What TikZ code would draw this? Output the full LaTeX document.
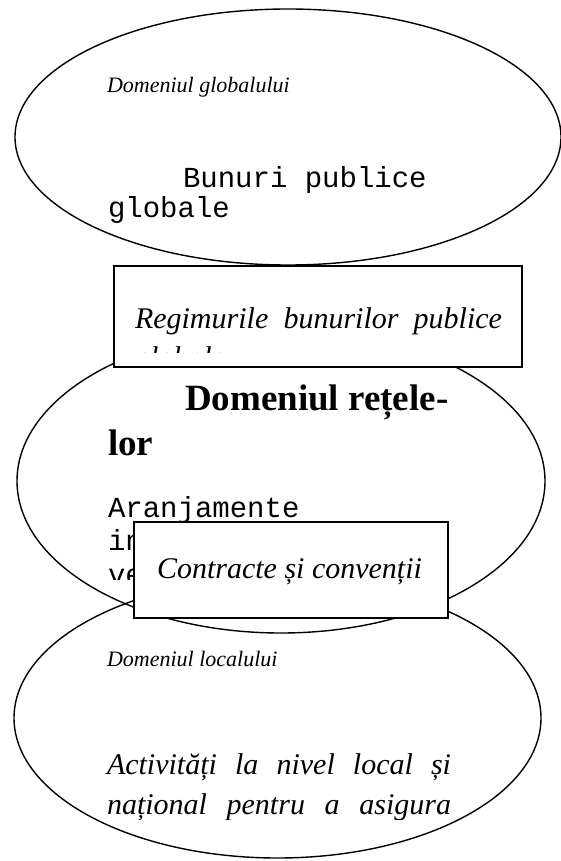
\documentclass[tikz,border=0pt]{standalone}
\usepackage{fontspec}
\setmainfont{Liberation Serif}
\setmonofont{Liberation Mono}
\usetikzlibrary{shapes.geometric}

\tikzset{
  domeniu/.style={draw, ellipse, line width=1.4pt, inner sep=0pt},
  cadru/.style={draw, fill=white, line width=1.6pt, anchor=north west, inner sep=0pt},
  eticheta/.style={anchor=base west, inner sep=0pt, outer sep=0pt},
  titlumic/.style={eticheta, font=\fontsize{22}{26}\selectfont\itshape},
  titlumare/.style={eticheta, font=\fontsize{30}{36}\selectfont\itshape},
  titlugros/.style={eticheta, font=\fontsize{37}{42}\selectfont\bfseries},
  mono/.style={eticheta, font=\fontsize{29}{33}\selectfont\ttfamily}
}

\begin{document}
\begin{tikzpicture}[x=1pt, y=-1pt]
  \useasboundingbox (0,0) rectangle (561,861);

  \node[domeniu, minimum width=546pt, minimum height=256pt] (glob) at (288,137) {};
  \node[domeniu, minimum width=528pt, minimum height=304pt] (retea) at (281,481) {};
  \node[domeniu, minimum width=527pt, minimum height=280pt] (local) at (277.5,718) {};

  \node[titlumic] (globtitlu) at (107,93) {Domeniul globalului};
  \node[mono] (bunuri) at (183,187) {Bunuri publice};
  \node[mono] (globale) at (108,217) {globale};

  \node[titlugros] (retele) at (185,410) {Domeniul rețele-};
  \node[titlugros] (retelelor) at (108,455) {lor};
  \node[mono] (aranj) at (108,517) {Aranjamente};
  \node[mono] (aranjin) at (108,550) {in};
  \begin{scope}
    \clip (100,560) rectangle (300,579);
    \node[mono] (aranjve) at (108,584) {ve};
  \end{scope}

  \node[titlumic] (localtitlu) at (107,666) {Domeniul localului};
  \node[titlumare] (activ) at (107,774) {\makebox[344pt][s]{Activități la nivel local și}};
  \begin{scope}
    \clip (100,790) rectangle (460,819);
    \node[titlumare] (national) at (107,814) {\makebox[344pt][s]{național pentru a asigura}};
  \end{scope}

  \node[cadru, minimum width=408pt, minimum height=101pt] (regim) at (113,265) {};
  \node[titlumare] (regimtext) at (135,328) {\makebox[367pt][s]{Regimurile bunurilor publice}};
  \begin{scope}
    \clip (120,340) rectangle (515,352);
    \node[titlumare] (regimglob) at (135,367) {globale};
  \end{scope}

  \node[cadru, minimum width=314pt, minimum height=96pt] (contr) at (133,521) {};
  \node[titlumare] (contrtext) at (157,578) {Contracte și convenții};
\end{tikzpicture}
\end{document}
